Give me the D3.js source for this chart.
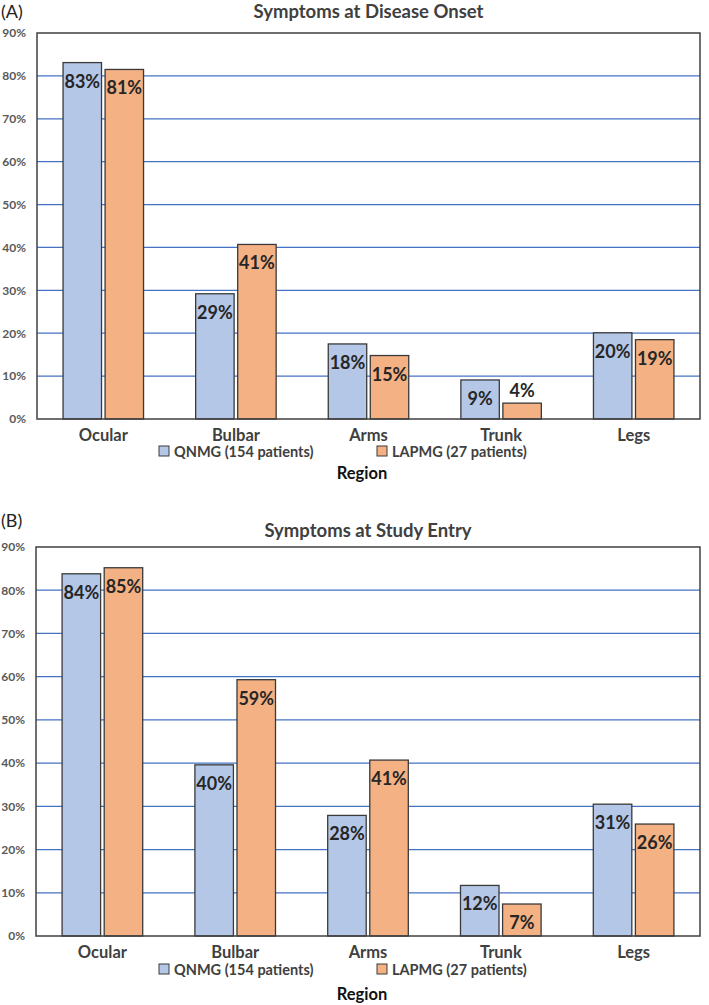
<!DOCTYPE html>
<html><head><meta charset="utf-8">
<script src="https://cdn.jsdelivr.net/npm/d3@7"></script>
<style>body{margin:0;background:#fff}svg{display:block}</style>
</head><body>
<svg id="c" width="709" height="1005"></svg>
<script>
const categories = ["Ocular","Bulbar","Arms","Trunk","Legs"];
const seriesNames = ["QNMG (154 patients)","LAPMG (27 patients)"];
const onsetQNMG = [83.1, 29.2, 17.5, 9.1, 20.1];
const onsetLAPMG = [81.5, 40.7, 14.8, 3.7, 18.5];
const entryQNMG = [83.8, 39.6, 27.9, 11.7, 30.5];
const entryLAPMG = [85.2, 59.3, 40.7, 7.4, 25.9];
const onsetLabels = [["83%","29%","18%","9%","20%"],["81%","41%","15%","4%","19%"]];
const entryLabels = [["84%","40%","28%","12%","31%"],["85%","59%","41%","7%","26%"]];
const yTicks = [0,10,20,30,40,50,60,70,80,90];
const colors = ["#b4c7e7","#f4b183"];
const font = "Lato, 'Open Sans', sans-serif";

const svg = d3.select("#c");

function panel(cfg){
  const g = svg.append("g");
  const x0 = d3.scaleBand().domain(categories).range([cfg.left, cfg.right]);
  const y = d3.scaleLinear().domain([0,90]).range([cfg.bottom, cfg.top]);
  g.append("text").attr("x",1).attr("y",cfg.letterY).text(cfg.letter)
    .attr("font-family",font).attr("font-size",18).attr("fill","#222");
  g.append("text").attr("x",(cfg.left+cfg.right)/2).attr("y",cfg.titleY).attr("text-anchor","middle")
    .text(cfg.title).attr("font-family",font).attr("font-weight","bold").attr("font-size",18.5).attr("fill","#404040");
  g.selectAll(".grid").data(yTicks.filter(t=>t>0&&t<90)).join("line")
    .attr("x1",cfg.left).attr("x2",cfg.right).attr("y1",d=>y(d)).attr("y2",d=>y(d))
    .attr("stroke","#4472c4").attr("stroke-width",1.2);
  const ax = d3.axisLeft(y).tickValues(yTicks).tickFormat(d=>d+"%").tickSize(0).tickPadding(11);
  const axg = g.append("g").attr("transform",`translate(${cfg.left},0)`).call(ax);
  axg.select(".domain").remove();
  axg.selectAll("text").attr("font-family",font).attr("font-weight","bold").attr("font-size",12).attr("fill","#595959");
  const x1 = d3.scaleBand().domain([0,1]).range([0, x0.bandwidth()]).paddingInner(0.085).paddingOuter(0.62);
  [cfg.s0, cfg.s1].forEach((vals, si)=>{
    g.selectAll(".b"+si).data(vals).join("rect")
      .attr("x",(d,i)=>x0(categories[i])+x1(si)).attr("width",x1.bandwidth())
      .attr("y",d=>y(d)).attr("height",d=>y(0)-y(d))
      .attr("fill",colors[si]).attr("stroke","#3a3a3a").attr("stroke-width",1.3);
    g.selectAll(".l"+si).data(vals).join("text")
      .attr("x",(d,i)=>x0(categories[i])+x1(si)+x1.bandwidth()/2)
      .attr("y",(d,i)=> cfg.above[si][i] ? y(d)-6 : y(d)+25)
      .attr("text-anchor","middle").text((d,i)=>cfg.labels[si][i])
      .attr("font-family",font).attr("font-weight","bold").attr("font-size",18).attr("fill","#262626");
  });
  g.append("rect").attr("x",cfg.left).attr("y",cfg.top).attr("width",cfg.right-cfg.left).attr("height",cfg.bottom-cfg.top)
    .attr("fill","none").attr("stroke","#404040").attr("stroke-width",1.5);
  const xa = d3.axisBottom(x0).tickSize(0).tickPadding(10);
  const xg = g.append("g").attr("transform",`translate(0,${cfg.bottom})`).call(xa);
  xg.select(".domain").remove();
  xg.selectAll("text").attr("font-family",font).attr("font-weight","bold").attr("font-size",16.5).attr("fill","#404040");
  const legX = [159, 377];
  seriesNames.forEach((n,i)=>{
    g.append("rect").attr("x",legX[i]).attr("y",cfg.legendY-6).attr("width",10).attr("height",10)
      .attr("fill",colors[i]).attr("stroke","#3a3a3a").attr("stroke-width",1);
    g.append("text").attr("x",legX[i]+15).attr("y",cfg.legendY+5).text(n)
      .attr("font-family",font).attr("font-weight","bold").attr("font-size",14.5).attr("fill","#404040");
  });
  g.append("text").attr("x",362).attr("y",cfg.regionY).attr("text-anchor","middle").text("Region")
    .attr("font-family",font).attr("font-weight","bold").attr("font-size",16.5).attr("fill","#111");
}

panel({letter:"(A)", letterY:18, title:"Symptoms at Disease Onset", titleY:18,
  left:37, right:700, top:33, bottom:419, s0:onsetQNMG, s1:onsetLAPMG, labels:onsetLabels,
  above:[[0,0,0,0,0],[0,0,0,1,0]], legendY:452, regionY:479});
panel({letter:"(B)", letterY:527, title:"Symptoms at Study Entry", titleY:537,
  left:36, right:700, top:547, bottom:936, s0:entryQNMG, s1:entryLAPMG, labels:entryLabels,
  above:[[0,0,0,0,0],[0,0,0,0,0]], legendY:970, regionY:1000});
</script>
</body></html>
